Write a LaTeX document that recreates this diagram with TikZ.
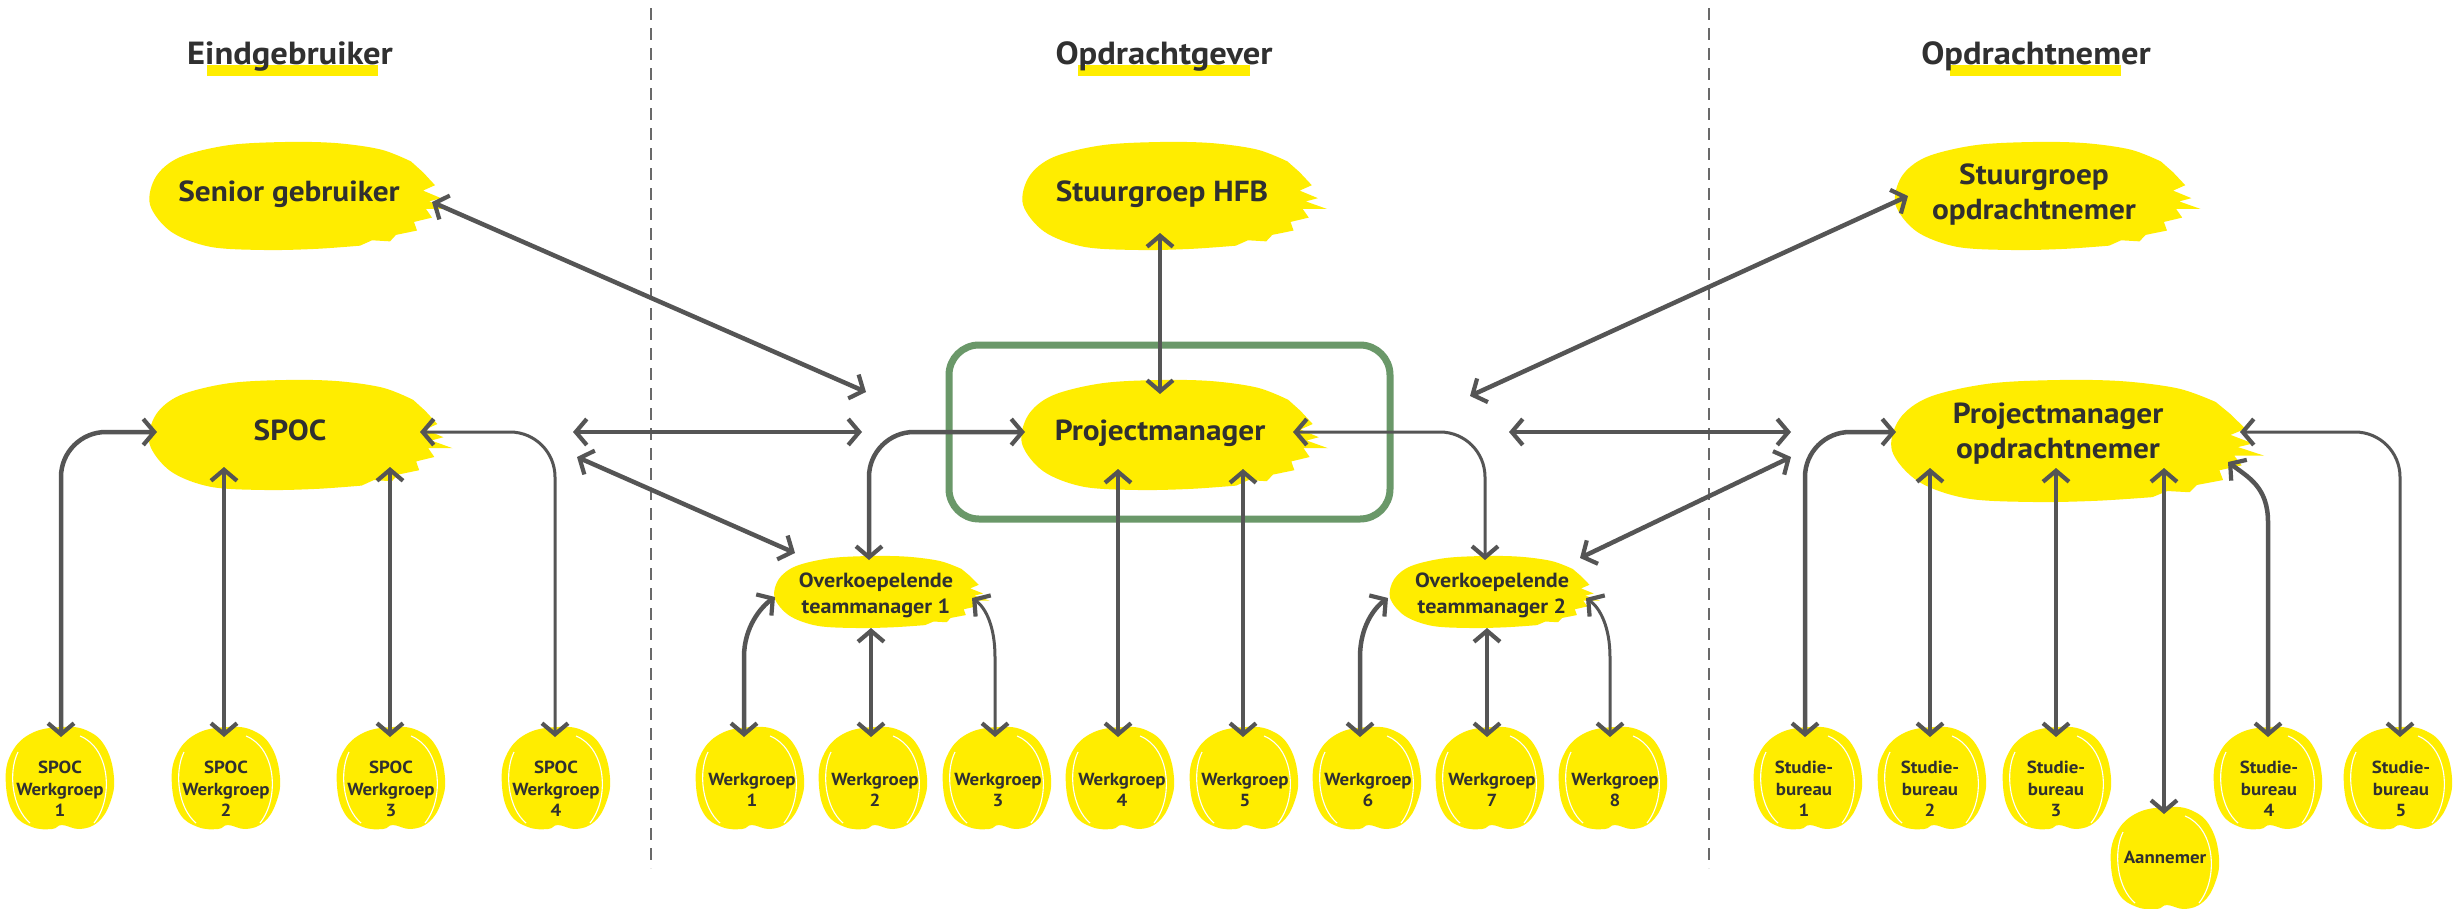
\documentclass[tikz,border=0pt]{standalone}
\usepackage{fontspec}
\setmainfont{PT Sans}[FakeStretch=1.08]
\usetikzlibrary{arrows.meta}
\definecolor{blobyellow}{RGB}{255,237,0}
\definecolor{arrowgray}{RGB}{85,85,85}
\definecolor{txtgray}{RGB}{48,48,48}
\definecolor{boxgreen}{RGB}{106,152,105}
\definecolor{dashgray}{RGB}{105,105,105}

\newcommand\bigblob[4]{%
\fill[blobyellow,shift={(#1,#2)},xscale=#3,yscale=#4]
 plot[smooth,tension=0.55] coordinates {(0.2,0.46) (0.05,0.49) (-0.12,0.5) (-0.3,0.47) (-0.43,0.33) (-0.5,0.08) (-0.48,-0.18) (-0.4,-0.36) (-0.24,-0.47) (-0.05,-0.5) (0.12,-0.49) (0.27,-0.43) (0.37,-0.32)}
 -- (0.41,-0.22) -- (0.45,-0.1) -- (0.41,-0.05) -- (0.47,0.02) -- (0.43,0.05) -- (0.5,0.12) -- (0.42,0.12) -- (0.44,0.2) -- (0.38,0.24) -- (0.39,0.32) -- (0.32,0.36) -- (0.3,0.42) -- (0.24,0.41) -- cycle;}

\newcommand\smallblob[2]{%
\begin{scope}[shift={(#1,#2)}]
\fill[blobyellow] plot[smooth cycle,tension=0.7] coordinates {(2,-51) (28,-47) (46,-30) (54,0) (50,25) (38,44) (20,51) (2,47) (-8,51) (-28,49) (-46,36) (-54,8) (-50,-22) (-30,-44)};
\draw[white,line width=1.1pt] (20,-42) .. controls (50,-30) and (54,20) .. (34,45);
\draw[white,line width=1.1pt] (-42,-26) .. controls (-52,-6) and (-48,30) .. (-30,45);
\end{scope}}

\tikzset{
  hdr/.style={text=txtgray, inner sep=0pt, font=\fontsize{32}{38}\selectfont\bfseries},
  lbl/.style={text=txtgray, inner sep=0pt, font=\fontsize{29}{35}\selectfont\bfseries, align=center},
  mid/.style={text=txtgray, inner sep=0pt, font=\fontsize{20.5}{26}\selectfont\bfseries, align=center},
  sml/.style={text=txtgray, inner sep=0pt, font=\fontsize{17.5}{21.5}\selectfont\bfseries, align=center},
  conn/.style={draw=arrowgray, line width=4.5pt,
    {Straight Barb[length=11pt,width=26pt,line width=4.2pt]}-{Straight Barb[length=11pt,width=26pt,line width=4.2pt]}},
  lighter/.style={line width=3pt},
  bendr/.style={rounded corners=45pt},
  sepline/.style={draw=dashgray, line width=1.6pt, dash pattern=on 12pt off 8pt},
  hlbar/.style={fill=blobyellow}
}

\begin{document}
\begin{tikzpicture}[x=1pt,y=-1pt]
\useasboundingbox (0,0) rectangle (2458,908);
\fill[white] (0,0) rectangle (2458,908);

% separators
\coordinate (d1t) at (651,8); \coordinate (d1b) at (651,868);
\coordinate (d2t) at (1709,8); \coordinate (d2b) at (1709,868);
\draw[sepline] (d1t) -- (d1b);
\draw[sepline] (d2t) -- (d2b);

% headers
\fill[hlbar] (207,65) rectangle (378,76);
\fill[hlbar] (1078,65) rectangle (1250,76);
\fill[hlbar] (1950,65) rectangle (2121,76);
\node[hdr,anchor=base] (h1) at (290,64) {Eindgebruiker};
\node[hdr,anchor=base] (h2) at (1164,64) {Opdrachtgever};
\node[hdr,anchor=base] (h3) at (2036,64) {Opdrachtnemer};

% green frame
\draw[boxgreen, line width=7pt, rounded corners=30pt] (949,345) rectangle (1390,519);

% big blobs
\bigblob{300}{196}{300}{108}
\bigblob{1175}{196}{304}{108}
\bigblob{2048}{196}{305}{108}
\bigblob{301}{435}{303}{110}
\bigblob{1175}{435}{306}{110}
\bigblob{2078}{441}{372}{122}
\bigblob{882}{592}{215}{72}
\bigblob{1495}{592}{210}{72}

% small blobs
\foreach \x in {60,226,391,556,750,873,997,1120,1244,1367,1490,1613,1808,1932,2057,2268,2398}
  {\smallblob{\x}{778}}
\smallblob{2165}{858}

% labels
\node[lbl,anchor=base] (senior) at (289,201) {Senior gebruiker};
\node[lbl,anchor=base] (sghfb) at (1162,201) {Stuurgroep HFB};
\node[lbl] (sgon) at (2034,194.5) {Stuurgroep\\opdrachtnemer};
\node[lbl,anchor=base] (spoc) at (290,440) {SPOC};
\node[lbl,anchor=base] (pm) at (1160,440) {Projectmanager};
\node[lbl] (pmon) at (2058,433.5) {Projectmanager\\opdrachtnemer};
\node[mid] (otm1) at (876,595) {Overkoepelende\\teammanager 1};
\node[mid] (otm2) at (1492,595) {Overkoepelende\\teammanager 2};

\node[sml] (sw1) at (60,789) {SPOC\\Werkgroep\\1};
\node[sml] (sw2) at (226,789) {SPOC\\Werkgroep\\2};
\node[sml] (sw3) at (391,789) {SPOC\\Werkgroep\\3};
\node[sml] (sw4) at (556,789) {SPOC\\Werkgroep\\4};
\node[sml] (w1) at (752,790) {Werkgroep\\1};
\node[sml] (w2) at (875,790) {Werkgroep\\2};
\node[sml] (w3) at (998,790) {Werkgroep\\3};
\node[sml] (w4) at (1122,790) {Werkgroep\\4};
\node[sml] (w5) at (1245,790) {Werkgroep\\5};
\node[sml] (w6) at (1368,790) {Werkgroep\\6};
\node[sml] (w7) at (1492,790) {Werkgroep\\7};
\node[sml] (w8) at (1615,790) {Werkgroep\\8};
\node[sml] (sb1) at (1804,789) {Studie-\\bureau\\1};
\node[sml] (sb2) at (1930,789) {Studie-\\bureau\\2};
\node[sml] (sb3) at (2056,789) {Studie-\\bureau\\3};
\node[sml] (sb4) at (2269,789) {Studie-\\bureau\\4};
\node[sml] (sb5) at (2401,789) {Studie-\\bureau\\5};
\node[sml,anchor=base] (ann) at (2165,863) {Aannemer};

% connector end points
\coordinate (senior-e) at (432,202);
\coordinate (pm-nw) at (866,392);
\coordinate (spoc-r) at (573,432);
\coordinate (pm-w) at (862,432);
\coordinate (spoc-se) at (577,457);
\coordinate (otm1-nw) at (795,553);
\coordinate (sw1-n) at (61,737);  \coordinate (spoc-w) at (157,432);
\coordinate (sw2-n) at (224,737); \coordinate (spoc-s1) at (224,467);
\coordinate (sw3-n) at (390,737); \coordinate (spoc-s2) at (390,467);
\coordinate (sw4-n) at (555,737); \coordinate (spoc-e) at (420,432);
\coordinate (sghfb-s) at (1160,233); \coordinate (pm-n) at (1160,394);
\coordinate (otm1-n) at (869,560); \coordinate (pm-wi) at (1025,432);
\coordinate (otm2-n) at (1485,560); \coordinate (pm-e) at (1293,432);
\coordinate (pm-ee) at (1509,432); \coordinate (pmon-w) at (1791,432);
\coordinate (pm-ne) at (1470,396); \coordinate (sgon-w) at (1908,196);
\coordinate (otm2-ne) at (1580,558); \coordinate (pmon-sw) at (1791,457);
\coordinate (sb1-n) at (1805,737); \coordinate (pmon-wi) at (1896,432);
\coordinate (sb2-n) at (1930,737); \coordinate (pmon-s1) at (1930,468);
\coordinate (sb3-n) at (2056,737); \coordinate (pmon-s2) at (2056,468);
\coordinate (ann-n) at (2164,814); \coordinate (pmon-s3) at (2164,468);
\coordinate (sb4-n) at (2268,737); \coordinate (pmon-se) at (2228,462);
\coordinate (sb5-n) at (2400,737); \coordinate (pmon-e) at (2240,432);
\coordinate (w1-n) at (744,737); \coordinate (otm1-w) at (775,597);
\coordinate (w2-n) at (871,737); \coordinate (otm1-s) at (871,628);
\coordinate (w3-n) at (995,737); \coordinate (otm1-e) at (972,598);
\coordinate (w4-n) at (1118,737); \coordinate (pm-s1) at (1118,469);
\coordinate (w5-n) at (1243,737); \coordinate (pm-s2) at (1243,469);
\coordinate (w6-n) at (1360,737); \coordinate (otm2-w) at (1388,598);
\coordinate (w7-n) at (1487,737); \coordinate (otm2-s) at (1487,628);
\coordinate (w8-n) at (1610,737); \coordinate (otm2-e) at (1586,598);

% connectors
\draw[conn] (senior-e) -- (pm-nw);
\draw[conn] (spoc-r) -- (pm-w);
\draw[conn] (spoc-se) -- (otm1-nw);
\draw[conn,bendr] (sw1-n) |- (spoc-w);
\draw[conn] (sw2-n) -- (spoc-s1);
\draw[conn] (sw3-n) -- (spoc-s2);
\draw[conn,lighter,bendr] (sw4-n) |- (spoc-e);
\draw[conn] (sghfb-s) -- (pm-n);
\draw[conn,bendr] (otm1-n) |- (pm-wi);
\draw[conn,lighter,bendr] (otm2-n) |- (pm-e);
\draw[conn] (pm-ee) -- (pmon-w);
\draw[conn] (pm-ne) -- (sgon-w);
\draw[conn] (otm2-ne) -- (pmon-sw);
\draw[conn,bendr] (sb1-n) |- (pmon-wi);
\draw[conn] (sb2-n) -- (pmon-s1);
\draw[conn] (sb3-n) -- (pmon-s2);
\draw[conn] (ann-n) -- (pmon-s3);
\draw[conn] (sb4-n) -- ++(0,-215) .. controls +(0,-35) and +(20,15) .. (pmon-se);
\draw[conn,lighter,bendr] (sb5-n) |- (pmon-e);
\draw[conn] (w1-n) -- ++(0,-80) .. controls +(0,-30) and +(-14,10) .. (otm1-w);
\draw[conn] (w2-n) -- (otm1-s);
\draw[conn,lighter] (w3-n) -- ++(0,-80) .. controls +(0,-30) and +(14,10) .. (otm1-e);
\draw[conn] (w4-n) -- (pm-s1);
\draw[conn] (w5-n) -- (pm-s2);
\draw[conn] (w6-n) -- ++(0,-80) .. controls +(0,-30) and +(-14,10) .. (otm2-w);
\draw[conn] (w7-n) -- (otm2-s);
\draw[conn,lighter] (w8-n) -- ++(0,-80) .. controls +(0,-30) and +(14,10) .. (otm2-e);
\end{tikzpicture}
\end{document}
